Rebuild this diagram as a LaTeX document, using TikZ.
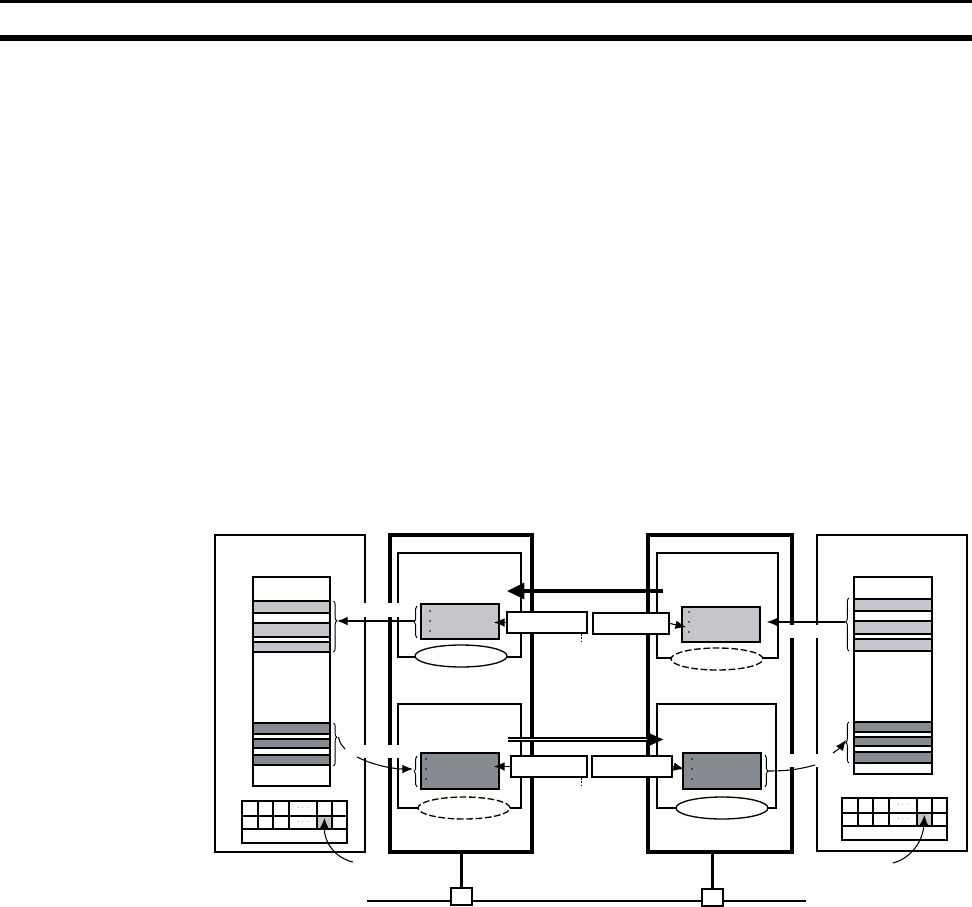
\documentclass[tikz,border=0pt]{standalone}
\usepackage{tikz}
\usetikzlibrary{arrows.meta,positioning,shapes.geometric,fit,calc,decorations.pathreplacing}
\definecolor{lightband}{RGB}{196,198,204}
\definecolor{darkband}{RGB}{134,138,145}

\begin{document}
\begin{tikzpicture}[x=0.75pt, y=-0.75pt, >={Latex[length=8pt,width=6.5pt]}]
\tikzset{
  memframe/.style={draw, line width=1.5pt, inner sep=0pt},
  plcframe/.style={draw, line width=2.5pt, inner sep=0pt},
  unitframe/.style={draw, line width=0.9pt, inner sep=0pt},
  blk/.style={draw, line width=1.3pt, inner sep=0pt},
  buf/.style={draw, fill=white, line width=1.5pt, inner sep=0pt},
  ring/.style={ellipse, draw, fill=white, line width=1pt, minimum width=69pt, minimum height=16.5pt, inner sep=0pt},
  dashring/.style={ring, dash pattern=on 5pt off 2pt},
  band/.style={draw, line width=1.3pt},
  cell/.style={line width=0.9pt},
  gapcut/.style={fill=white},
  membrace/.style={decorate, decoration={brace, amplitude=2.5pt, aspect=#1}, line width=0.7pt},
  membrace/.default=0.5,
  blkbrace/.style={decorate, decoration={brace, amplitude=2pt}, line width=0.7pt},
  link/.style={->, line width=0.8pt},
  stub/.style={line width=2.5pt},
  tap/.style={draw, fill=white, line width=1.5pt, minimum width=15.75pt, minimum height=12.75pt, inner sep=0pt}
}
\useasboundingbox (0,0) rectangle (972,907);

% header rules
\draw[line width=2pt] (0,1.3) -- (972,1.3);
\draw[line width=4.5pt] (0,38) -- (972,38);

% left memory
\node[memframe, fit={(215,535)(365,852)}] (memL) {};
\node[memframe, fit={(253,577)(330,786)}] (colL) {};
\foreach \a/\b in {601/613,623/637,642/652} \draw[band, fill=lightband] (253,\a) rectangle (330,\b);
\foreach \a/\b in {723/734,739/748,755/765} \draw[band, fill=darkband] (253,\a) rectangle (330,\b);
\draw[membrace=0.39] (333.5,601) -- (333.5,652);
\draw[membrace=0.33] (333.5,723) -- (333.5,766);
\coordinate (tipLa) at (337,621);
\coordinate (tipLb) at (338.5,737);

% right memory
\node[memframe, fit={(817,535)(967,851)}] (memR) {};
\node[memframe, fit={(854,577)(932,774)}] (colR) {};
\foreach \a/\b in {599/611,621/634,639/651} \draw[band, fill=lightband] (854,\a) rectangle (932,\b);
\foreach \a/\b in {722/732,737/746,752/763} \draw[band, fill=darkband] (854,\a) rectangle (932,\b);
\draw[membrace=0.55] (849,651) -- (849,598);
\draw[membrace] (849,763) -- (849,722);
\coordinate (tipRa) at (845,622);
\coordinate (tipRb) at (846,740);

% tables
\foreach \ox/\oy/\nm in {242/801/L,842/798/R}{
  \begin{scope}[shift={(\ox,\oy)}]
    \fill[lightband] (75,15) rectangle (90,28);
    \node[draw, cell, fit={(0,0)(105,42)}, inner sep=0pt] (tab\nm) {};
    \foreach \c in {16,31,47,75,90} \draw[cell] (\c,0) -- (\c,28);
    \draw[cell] (0,15) -- (105,15) (0,28) -- (105,28);
    \node[font=\tiny, inner sep=0pt] (dots\nm a) at (61,7) {$\cdots$};
    \node[font=\tiny, inner sep=0pt] (dots\nm b) at (61,21) {$\cdots$};
    \coordinate (cell\nm) at (82.5,17);
  \end{scope}
}

% PLC A
\node[plcframe, fit={(390,535)(532,852)}] (plcA) {};
\node[unitframe, fit={(398,553)(521,657)}] (unitA1) {};
\node[unitframe, fit={(398,704)(521,808)}] (unitA2) {};
\node[ring] (ringA1) at (461,656) {};
\node[dashring] (ringA2) at (464,808) {};
\node[blk, fill=lightband, fit={(421,604)(499,639)}] (blkA1) {};
\node[blk, fill=darkband, fit={(421,753)(499,789)}] (blkA2) {};
\foreach \yy in {611,621,631} \fill (430,\yy) circle (0.65pt);
\foreach \yy in {759,769,779} \fill (426,\yy) circle (0.65pt);
\draw[blkbrace] (417,638) -- (417,606);
\draw[blkbrace] (417,787) -- (417,756);
\coordinate (brA1) at (414.5,621);
\coordinate (brA2) at (413,769);

% PLC B
\node[plcframe, fit={(648,535)(792,852)}] (plcB) {};
\node[unitframe, fit={(657,553)(778,658)}] (unitB1) {};
\node[unitframe, fit={(657,704)(776,808)}] (unitB2) {};
\node[dashring] (ringB1) at (717,659) {};
\node[ring] (ringB2) at (722,808) {};
\node[blk, fill=lightband, fit={(682,607)(760,642)}] (blkB1) {};
\node[blk, fill=darkband, fit={(683,753)(761,789)}] (blkB2) {};
\foreach \yy in {612,622,632} \fill (689,\yy) circle (0.65pt);
\foreach \yy in {759,769,779} \fill (692,\yy) circle (0.65pt);
\draw[blkbrace] (765,755) -- (765,787);
\coordinate (brB2) at (767.5,771);

% breaks in the frames
\fill[gapcut] (361,603) rectangle (403,617);
\fill[gapcut] (361,745) rectangle (403,758);
\fill[gapcut] (788,625) rectangle (821,638);
\fill[gapcut] (788,754) rectangle (821,767);

% network
\coordinate (busW) at (367,901);
\coordinate (busE) at (806,901);
\draw[line width=2.2pt] (busW) -- (busE);
\node[tap] (tapA) at (461.5,896.5) {};
\node[tap] (tapB) at (712.5,897) {};
\draw[stub] (tapA.north |- plcA.south) -- (tapA.north);
\draw[stub] (tapB.north |- plcB.south) -- (tapB.north);

% transfer arrows
\coordinate (thkS) at (663,591);
\coordinate (thkE) at (507,591);
\draw[line width=2.5pt, -{Triangle[length=13pt,width=12pt]}] (thkS) -- (thkE);
\coordinate (dblS) at (508,739.5);
\coordinate (dblE) at (663,739.5);
\draw[double, line width=1pt, double distance=1.3pt, shorten >=8pt] (dblS) -- (dblE);
\draw[line width=0.1pt, -{Triangle[length=12pt,width=11pt]}] ($(dblE)+(-14,0)$) -- (dblE);

% buffers
\node[buf, fit={(507,612)(587,633)}] (bufA1) {};
\node[buf, fit={(593,613)(669,634)}] (bufB1) {};
\node[buf, fit={(511,756)(587,777)}] (bufA2) {};
\node[buf, fit={(592,756)(672,777)}] (bufB2) {};
\coordinate (tickA1) at (581,641);
\coordinate (tickA2) at (581,785);
\draw[line width=0.5pt, dash pattern=on 1.5pt off 1pt] (bufA1.south -| tickA1) -- (tickA1);
\draw[line width=0.5pt, dash pattern=on 1.5pt off 1pt] (bufA2.south -| tickA2) -- (tickA2);

% data links
\draw[link, shorten >=-4.5pt] (bufA1.west) -- (bufA1.west -| blkA1.east);
\draw[link] (brA1) -- (tipLa);
\draw[link, shorten >=-4.5pt] (bufA2.west) -- (bufA2.west -| blkA2.east);
\coordinate (cvL1) at (345,749);
\coordinate (cvL2) at (357,757);
\draw[line width=0.8pt] (tipLb) .. controls (340,743) .. (cvL1);
\draw[link] (cvL2) .. controls (375,766) and (395,769) .. (brA2);
\draw[link] (bufB1.east) -- ([xshift=3.75pt, yshift=-1.9pt]blkB1.west);
\draw[link, shorten >=4.5pt] (tipRa) -- (blkB1.east |- tipRa);
\draw[link] (bufB2.east) -- ([xshift=1.5pt, yshift=1.5pt]blkB2.west);
\coordinate (cvR1) at (815,765);
\coordinate (cvR2) at (833,753);
\draw[line width=0.8pt] (brB2) .. controls (790,771) and (800,769) .. (cvR1);
\draw[link] (cvR2) .. controls (840,748) .. (tipRb);
\coordinate (cvTL) at (353,862);
\coordinate (cvTR) at (893,863);
\draw[link, -{Latex[length=8pt,width=7pt]}] (cvTL) .. controls (335,858) and (324,842) .. (cellL);
\draw[link, -{Latex[length=8pt,width=7pt]}] (cvTR) .. controls (912,858) and (923,840) .. (cellR);
\end{tikzpicture}
\end{document}
